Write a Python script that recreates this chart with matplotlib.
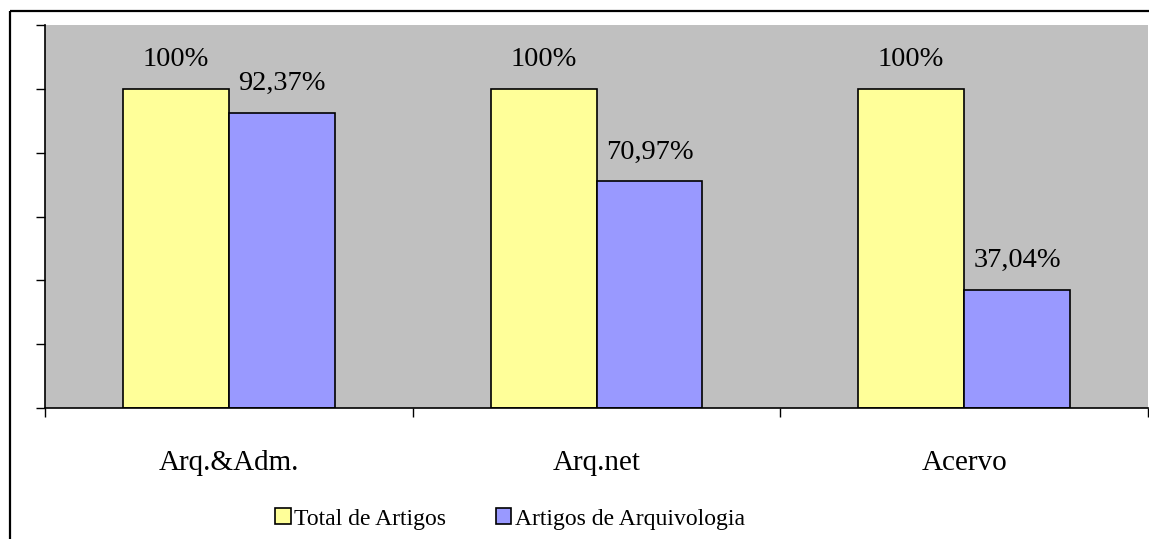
import matplotlib
matplotlib.use("Agg")
import matplotlib.pyplot as plt
import numpy as np
from matplotlib.patches import Rectangle, Patch

categories = ["Arq.&Adm.", "Arq.net", "Acervo"]
total_artigos = [100, 100, 100]
artigos_arquivologia = [92.37, 70.97, 37.04]
total_labels = ["100%", "100%", "100%"]
arq_labels = ["92,37%", "70,97%", "37,04%"]
series_names = ["Total de Artigos", "Artigos de Arquivologia"]

plt.rcParams['font.family'] = ['Liberation Serif', 'DejaVu Serif']

fig = plt.figure(figsize=(11.49, 5.39), dpi=100)
W, H = 1149, 539

# outer frame
fig.patches.append(Rectangle((10 / W, 1 - 11 / H), 2, -2, transform=fig.transFigure,
                             fill=False, edgecolor='black', linewidth=1.6, zorder=0))

ax = fig.add_axes([45 / W, 1 - 408 / H, (1148 - 45) / W, (408 - 25) / H])
ax.set_facecolor('#C0C0C0')

x = np.arange(len(categories))
bw = 0.288
b1 = ax.bar(x - bw / 2, total_artigos, bw, color='#FFFF99', edgecolor='black', linewidth=1.2)
b2 = ax.bar(x + bw / 2, artigos_arquivologia, bw, color='#9999FF', edgecolor='black', linewidth=1.2)

for rect, lab in zip(b1, total_labels):
    ax.annotate(lab, (rect.get_x() + rect.get_width() / 2, rect.get_height()),
                xytext=(0, 16.5), textcoords='offset points', ha='center', va='baseline', fontsize=20.5)
for rect, lab in zip(b2, arq_labels):
    ax.annotate(lab, (rect.get_x() + rect.get_width() / 2, rect.get_height()),
                xytext=(0, 16.5), textcoords='offset points', ha='center', va='baseline', fontsize=20.5)

ax.set_xlim(-0.5, len(categories) - 0.5)
ax.set_ylim(0, 120)
ax.set_yticks(np.arange(0, 121, 20))
ax.set_yticklabels([])
ax.tick_params(axis='y', direction='out', length=6.5, width=1, color='black')

ax.set_xticks(np.arange(-0.5, len(categories), 1.0))
ax.set_xticklabels([])
ax.tick_params(axis='x', which='major', direction='out', length=6.5, width=1)
ax.set_xticks(x, minor=True)
ax.set_xticklabels(categories, minor=True, fontsize=21)
ax.tick_params(axis='x', which='minor', length=0, pad=30.5)

for s in ['top', 'right']:
    ax.spines[s].set_visible(False)
for s in ['left', 'bottom']:
    ax.spines[s].set_linewidth(1.2)

handles = [Patch(facecolor='#FFFF99', edgecolor='black', linewidth=1.2),
           Patch(facecolor='#9999FF', edgecolor='black', linewidth=1.2)]
fig.legend(handles, series_names, loc='center', bbox_to_anchor=(510 / W, 1 - 519 / H),
           ncol=2, frameon=False, fontsize=17, handlelength=0.65, handleheight=0.65,
           handletextpad=0.15, columnspacing=2.1)

fig.savefig('out.png', dpi=100)
